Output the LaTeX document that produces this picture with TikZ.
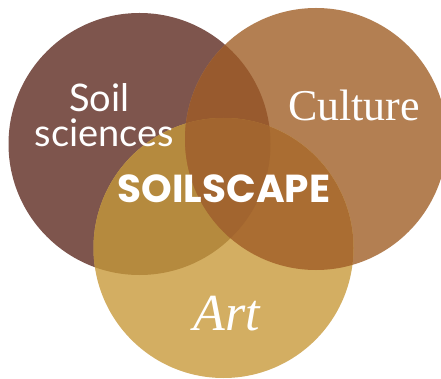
\documentclass[tikz,border=0pt]{standalone}
\usepackage{fontspec}
\setmainfont{Lato}
\newfontfamily\culturefont{Liberation Serif}
\newfontfamily\titlefont{Poppins}
\definecolor{cL}{HTML}{7E554D}
\definecolor{cR}{HTML}{B37F52}
\definecolor{cB}{HTML}{D3AE62}
\definecolor{cLR}{HTML}{985A2E}
\definecolor{cLB}{HTML}{B58A3E}
\definecolor{cRB}{HTML}{AA6D32}
\definecolor{cLRB}{HTML}{A2652F}
\tikzset{lbl/.style={text=white, inner sep=0pt, anchor=base}}
\begin{document}
\begin{tikzpicture}[x=1pt,y=-1pt]
\useasboundingbox (0,0) rectangle (441,379);
\fill[white] (0,0) rectangle (441,379);
\coordinate (L) at (139.5,144);
\coordinate (R) at (316,139);
\coordinate (B) at (223.5,248);
\def\rL{131pt}\def\rR{131pt}\def\rB{130pt}
\fill[cL] (L) circle (\rL);
\fill[cR] (R) circle (\rR);
\fill[cB] (B) circle (\rB);
\begin{scope}\clip (L) circle (\rL); \fill[cLR] (R) circle (\rR); \end{scope}
\begin{scope}\clip (L) circle (\rL); \fill[cLB] (B) circle (\rB); \end{scope}
\begin{scope}\clip (R) circle (\rR); \fill[cRB] (B) circle (\rB); \end{scope}
\begin{scope}\clip (L) circle (\rL); \clip (R) circle (\rR); \fill[cLRB] (B) circle (\rB); \end{scope}
\node[lbl, anchor=center, align=center, font=\fontsize{38}{35}\selectfont] (soil) at (104.5,115) {Soil\hspace*{10pt}\\sciences};
\node[lbl, font=\culturefont\fontsize{44}{44}\selectfont] (cult) at (354,121) {Culture};
\node[lbl, font=\titlefont\bfseries\fontsize{39}{39}\selectfont] (title) at (224,203) {SOILSCAPE};
\node[lbl, font=\culturefont\itshape\fontsize{52}{52}\selectfont] (art) at (227,330) {Art};
\end{tikzpicture}
\end{document}
